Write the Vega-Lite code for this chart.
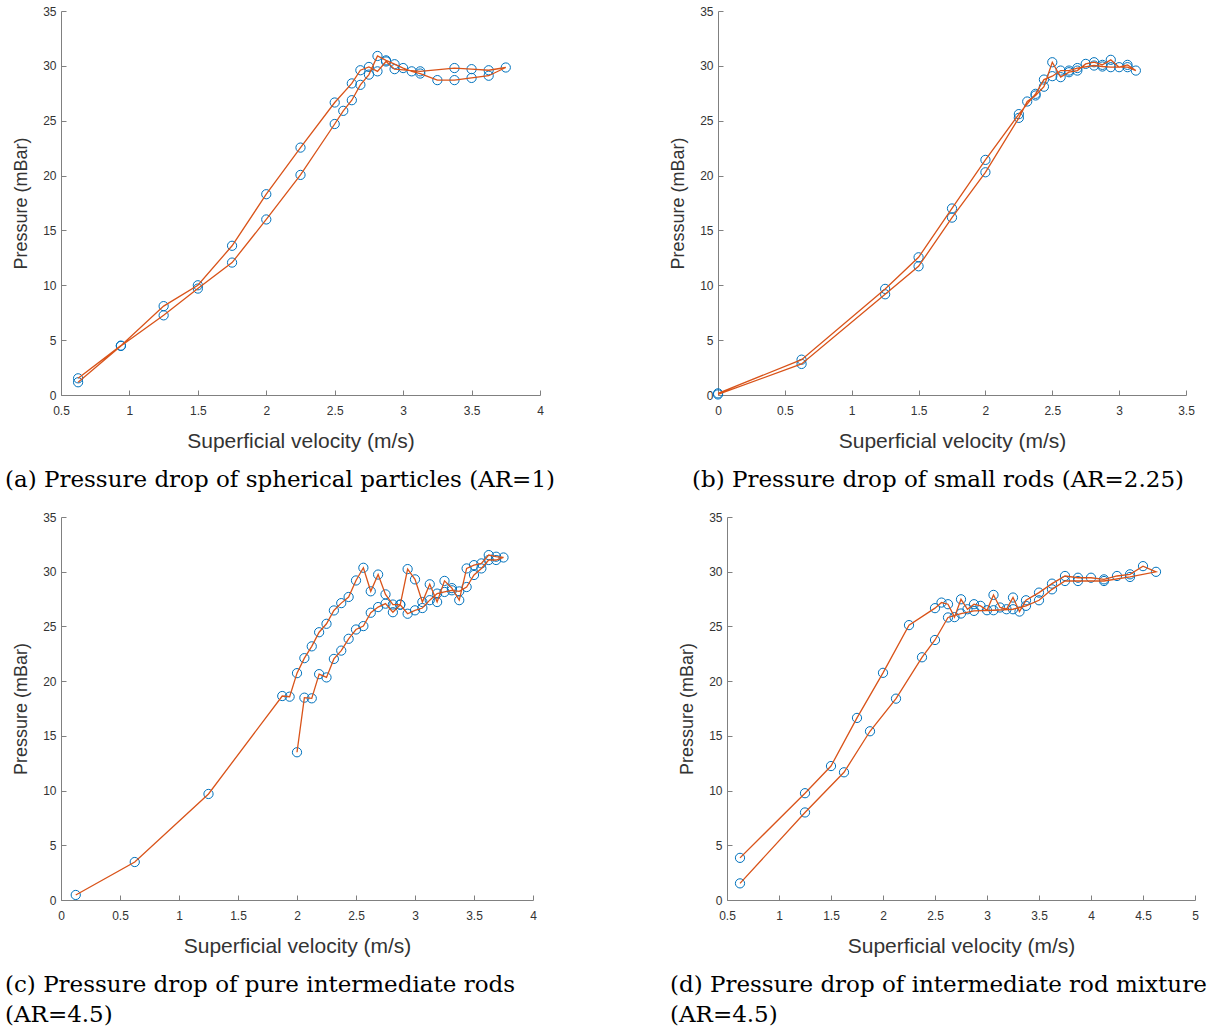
{
  "$schema": "https://vega.github.io/schema/vega-lite/v6.json",
  "padding": 5,
  "background": "white",
  "datasets": {
    "a": [
      {"v":0.625,"p":1.16,"s":1},{"v":0.9375,"p":4.47,"s":2},{"v":1.25,"p":7.26,"s":3},{"v":1.5,"p":9.7,"s":4},{"v":1.75,"p":12.07,"s":5},{"v":2.0,"p":16.0,"s":6},{"v":2.25,"p":20.06,"s":7},{"v":2.5,"p":24.7,"s":8},{"v":2.5625,"p":25.9,"s":9},{"v":2.625,"p":26.87,"s":10},{"v":2.6875,"p":28.27,"s":11},{"v":2.75,"p":29.2,"s":12},{"v":2.8125,"p":30.9,"s":13},{"v":2.875,"p":30.5,"s":14},{"v":2.9375,"p":30.15,"s":15},{"v":3.0,"p":29.8,"s":16},{"v":3.0625,"p":29.5,"s":17},{"v":3.125,"p":29.3,"s":18},{"v":3.25,"p":28.7,"s":19},{"v":3.375,"p":28.7,"s":20},{"v":3.5,"p":28.9,"s":21},{"v":3.625,"p":29.1,"s":22},{"v":3.75,"p":29.85,"s":23},{"v":3.625,"p":29.6,"s":24},{"v":3.5,"p":29.7,"s":25},{"v":3.375,"p":29.8,"s":26},{"v":3.125,"p":29.5,"s":27},{"v":2.9375,"p":29.7,"s":28},{"v":2.875,"p":30.4,"s":29},{"v":2.8125,"p":29.5,"s":30},{"v":2.75,"p":29.9,"s":31},{"v":2.6875,"p":29.6,"s":32},{"v":2.625,"p":28.4,"s":33},{"v":2.5,"p":26.66,"s":34},{"v":2.25,"p":22.55,"s":35},{"v":2.0,"p":18.3,"s":36},{"v":1.75,"p":13.6,"s":37},{"v":1.5,"p":10.0,"s":38},{"v":1.25,"p":8.1,"s":39},{"v":0.9375,"p":4.5,"s":40},{"v":0.625,"p":1.52,"s":41}
    ],
    "b": [
      {"v":0,"p":0.05,"s":1},{"v":0.625,"p":2.83,"s":2},{"v":1.25,"p":9.18,"s":3},{"v":1.5,"p":11.73,"s":4},{"v":1.75,"p":16.17,"s":5},{"v":2.0,"p":20.3,"s":6},{"v":2.25,"p":25.26,"s":7},{"v":2.3125,"p":26.75,"s":8},{"v":2.375,"p":27.3,"s":9},{"v":2.4375,"p":28.1,"s":10},{"v":2.5,"p":30.33,"s":11},{"v":2.5625,"p":28.97,"s":12},{"v":2.625,"p":29.42,"s":13},{"v":2.6875,"p":29.57,"s":14},{"v":2.75,"p":30.18,"s":15},{"v":2.8125,"p":30.33,"s":16},{"v":2.875,"p":30.09,"s":17},{"v":2.9375,"p":30.55,"s":18},{"v":3.0,"p":29.88,"s":19},{"v":3.0625,"p":30.09,"s":20},{"v":3.125,"p":29.57,"s":21},{"v":3.0625,"p":29.88,"s":22},{"v":2.9375,"p":29.88,"s":23},{"v":2.875,"p":29.94,"s":24},{"v":2.8125,"p":30.03,"s":25},{"v":2.6875,"p":29.8,"s":26},{"v":2.625,"p":29.57,"s":27},{"v":2.5625,"p":29.57,"s":28},{"v":2.5,"p":29.06,"s":29},{"v":2.4375,"p":28.75,"s":30},{"v":2.375,"p":27.45,"s":31},{"v":2.25,"p":25.6,"s":32},{"v":2.0,"p":21.43,"s":33},{"v":1.75,"p":17.0,"s":34},{"v":1.5,"p":12.55,"s":35},{"v":1.25,"p":9.67,"s":36},{"v":0.625,"p":3.22,"s":37},{"v":0,"p":0.15,"s":38}
    ],
    "c": [
      {"v":0.125,"p":0.46,"s":1},{"v":0.625,"p":3.47,"s":2},{"v":1.25,"p":9.69,"s":3},{"v":1.875,"p":18.64,"s":4},{"v":1.9375,"p":18.58,"s":5},{"v":2.0,"p":20.73,"s":6},{"v":2.0625,"p":22.1,"s":7},{"v":2.125,"p":23.18,"s":8},{"v":2.1875,"p":24.47,"s":9},{"v":2.25,"p":25.24,"s":10},{"v":2.3125,"p":26.46,"s":11},{"v":2.375,"p":27.13,"s":12},{"v":2.4375,"p":27.69,"s":13},{"v":2.5,"p":29.2,"s":14},{"v":2.5625,"p":30.36,"s":15},{"v":2.625,"p":28.21,"s":16},{"v":2.6875,"p":29.74,"s":17},{"v":2.75,"p":27.93,"s":18},{"v":2.8125,"p":27.0,"s":19},{"v":2.875,"p":27.0,"s":20},{"v":2.9375,"p":30.24,"s":21},{"v":3.0,"p":29.3,"s":22},{"v":3.0625,"p":27.23,"s":23},{"v":3.125,"p":28.85,"s":24},{"v":3.1875,"p":27.23,"s":25},{"v":3.25,"p":29.16,"s":26},{"v":3.3125,"p":28.5,"s":27},{"v":3.375,"p":27.4,"s":28},{"v":3.4375,"p":30.3,"s":29},{"v":3.5,"p":30.6,"s":30},{"v":3.5625,"p":30.76,"s":31},{"v":3.625,"p":31.52,"s":32},{"v":3.6875,"p":31.37,"s":33},{"v":3.75,"p":31.3,"s":34},{"v":3.6875,"p":31.07,"s":35},{"v":3.625,"p":31.07,"s":36},{"v":3.5625,"p":30.3,"s":37},{"v":3.5,"p":29.7,"s":38},{"v":3.4375,"p":28.6,"s":39},{"v":3.375,"p":28.2,"s":40},{"v":3.3125,"p":28.3,"s":41},{"v":3.25,"p":28.15,"s":42},{"v":3.1875,"p":28.0,"s":43},{"v":3.125,"p":27.4,"s":44},{"v":3.0625,"p":26.68,"s":45},{"v":3.0,"p":26.47,"s":46},{"v":2.9375,"p":26.16,"s":47},{"v":2.875,"p":26.98,"s":48},{"v":2.8125,"p":26.3,"s":49},{"v":2.75,"p":27.08,"s":50},{"v":2.6875,"p":26.77,"s":51},{"v":2.625,"p":26.25,"s":52},{"v":2.5625,"p":25.03,"s":53},{"v":2.5,"p":24.72,"s":54},{"v":2.4375,"p":23.87,"s":55},{"v":2.375,"p":22.79,"s":56},{"v":2.3125,"p":22.03,"s":57},{"v":2.25,"p":20.34,"s":58},{"v":2.1875,"p":20.64,"s":59},{"v":2.125,"p":18.43,"s":60},{"v":2.0625,"p":18.49,"s":61},{"v":2.0,"p":13.5,"s":62}
    ],
    "d": [
      {"v":0.625,"p":3.85,"s":1},{"v":1.25,"p":9.76,"s":2},{"v":1.5,"p":12.24,"s":3},{"v":1.75,"p":16.64,"s":4},{"v":2.0,"p":20.76,"s":5},{"v":2.25,"p":25.12,"s":6},{"v":2.5,"p":26.67,"s":7},{"v":2.5625,"p":27.18,"s":8},{"v":2.625,"p":27.03,"s":9},{"v":2.6875,"p":25.85,"s":10},{"v":2.75,"p":27.48,"s":11},{"v":2.8125,"p":26.57,"s":12},{"v":2.875,"p":27.03,"s":13},{"v":2.9375,"p":26.88,"s":14},{"v":3.0,"p":26.48,"s":15},{"v":3.0625,"p":27.88,"s":16},{"v":3.125,"p":26.73,"s":17},{"v":3.1875,"p":26.57,"s":18},{"v":3.25,"p":27.64,"s":19},{"v":3.3125,"p":26.36,"s":20},{"v":3.375,"p":27.39,"s":21},{"v":3.5,"p":28.09,"s":22},{"v":3.625,"p":28.91,"s":23},{"v":3.75,"p":29.61,"s":24},{"v":3.875,"p":29.45,"s":25},{"v":4.0,"p":29.45,"s":26},{"v":4.125,"p":29.3,"s":27},{"v":4.25,"p":29.61,"s":28},{"v":4.375,"p":29.76,"s":29},{"v":4.5,"p":30.51,"s":30},{"v":4.625,"p":29.99,"s":31},{"v":4.375,"p":29.52,"s":32},{"v":4.125,"p":29.15,"s":33},{"v":3.875,"p":29.15,"s":34},{"v":3.75,"p":29.15,"s":35},{"v":3.625,"p":28.39,"s":36},{"v":3.5,"p":27.39,"s":37},{"v":3.375,"p":26.88,"s":38},{"v":3.25,"p":26.57,"s":39},{"v":3.0625,"p":26.48,"s":40},{"v":2.875,"p":26.42,"s":41},{"v":2.75,"p":26.18,"s":42},{"v":2.625,"p":25.82,"s":43},{"v":2.5,"p":23.76,"s":44},{"v":2.375,"p":22.18,"s":45},{"v":2.125,"p":18.4,"s":46},{"v":1.875,"p":15.42,"s":47},{"v":1.625,"p":11.67,"s":48},{"v":1.25,"p":8.0,"s":49},{"v":0.625,"p":1.52,"s":50}
    ]
  },
  "vconcat": [
    {
      "hconcat": [
        {
          "width": 479, "height": 384,
          "data": {"name": "a"},
          "title": {"text": "(a) Pressure drop of spherical particles (AR=1)", "dx": -56},
          "encoding": {
            "x": {"field": "v", "type": "quantitative", "scale": {"domain": [0.5, 4], "nice": false, "zero": false}, "axis": {"values": [0.5,1,1.5,2,2.5,3,3.5,4], "title": "Superficial velocity (m/s)"}},
            "y": {"field": "p", "type": "quantitative", "scale": {"domain": [0, 35], "nice": false}, "axis": {"values": [0,5,10,15,20,25,30,35], "title": "Pressure (mBar)"}}
          },
          "layer": [
            {"mark": {"type": "point", "shape": "circle", "filled": false, "stroke": "#0072BD", "strokeWidth": 1, "size": 85, "opacity": 1}},
            {"mark": {"type": "line", "color": "#D95319", "strokeWidth": 1.3}, "encoding": {"order": {"field": "s", "type": "quantitative"}}}
          ]
        },
        {
          "width": 468, "height": 384,
          "data": {"name": "b"},
          "title": {"text": "(b) Pressure drop of small rods (AR=2.25)", "dx": -26},
          "encoding": {
            "x": {"field": "v", "type": "quantitative", "scale": {"domain": [0, 3.5], "nice": false}, "axis": {"values": [0,0.5,1,1.5,2,2.5,3,3.5], "title": "Superficial velocity (m/s)"}},
            "y": {"field": "p", "type": "quantitative", "scale": {"domain": [0, 35], "nice": false}, "axis": {"values": [0,5,10,15,20,25,30,35], "title": "Pressure (mBar)"}}
          },
          "layer": [
            {"mark": {"type": "point", "shape": "circle", "filled": false, "stroke": "#0072BD", "strokeWidth": 1, "size": 85, "opacity": 1}},
            {"mark": {"type": "line", "color": "#D95319", "strokeWidth": 1.3}, "encoding": {"order": {"field": "s", "type": "quantitative"}}}
          ]
        }
      ],
      "spacing": 178,
      "bounds": "flush"
    },
    {
      "hconcat": [
        {
          "width": 472, "height": 383,
          "data": {"name": "c"},
          "title": {"text": ["(c) Pressure drop of pure intermediate rods", "(AR=4.5)"], "dx": -56},
          "encoding": {
            "x": {"field": "v", "type": "quantitative", "scale": {"domain": [0, 4], "nice": false}, "axis": {"values": [0,0.5,1,1.5,2,2.5,3,3.5,4], "title": "Superficial velocity (m/s)"}},
            "y": {"field": "p", "type": "quantitative", "scale": {"domain": [0, 35], "nice": false}, "axis": {"values": [0,5,10,15,20,25,30,35], "title": "Pressure (mBar)"}}
          },
          "layer": [
            {"mark": {"type": "point", "shape": "circle", "filled": false, "stroke": "#0072BD", "strokeWidth": 1, "size": 85, "opacity": 1}},
            {"mark": {"type": "line", "color": "#D95319", "strokeWidth": 1.3}, "encoding": {"order": {"field": "s", "type": "quantitative"}}}
          ]
        },
        {
          "width": 468, "height": 383,
          "data": {"name": "d"},
          "title": {"text": ["(d) Pressure drop of intermediate rod mixture", "(AR=4.5)"], "dx": -57},
          "encoding": {
            "x": {"field": "v", "type": "quantitative", "scale": {"domain": [0.5, 5], "nice": false, "zero": false}, "axis": {"values": [0.5,1,1.5,2,2.5,3,3.5,4,4.5,5], "title": "Superficial velocity (m/s)"}},
            "y": {"field": "p", "type": "quantitative", "scale": {"domain": [0, 35], "nice": false}, "axis": {"values": [0,5,10,15,20,25,30,35], "title": "Pressure (mBar)"}}
          },
          "layer": [
            {"mark": {"type": "point", "shape": "circle", "filled": false, "stroke": "#0072BD", "strokeWidth": 1, "size": 85, "opacity": 1}},
            {"mark": {"type": "line", "color": "#D95319", "strokeWidth": 1.3}, "encoding": {"order": {"field": "s", "type": "quantitative"}}}
          ]
        }
      ],
      "spacing": 194,
      "bounds": "flush"
    }
  ],
  "spacing": 19,
  "config": {
    "view": {"stroke": null},
    "axis": {
      "grid": false,
      "domainColor": "#808080",
      "tickColor": "#808080",
      "tickSize": -5,
      "labelColor": "#333333",
      "labelFont": "Liberation Sans",
      "labelFontSize": 12,
      "format": "~g",
      "titleFont": "Liberation Sans",
      "titleFontWeight": "normal",
      "titleColor": "#333333",
      "labelFlush": false,
      "labelOverlap": false
    },
    "axisX": {"labelPadding": 15, "titlePadding": 14, "titleFontSize": 21},
    "axisY": {"labelPadding": 10, "titlePadding": 12, "titleFontSize": 18},
    "title": {
      "orient": "bottom",
      "anchor": "start",
      "frame": "group",
      "font": "DejaVu Serif",
      "fontSize": 23,
      "fontWeight": "normal",
      "color": "#000000",
      "offset": 18,
      "lineHeight": 30
    }
  }
}
